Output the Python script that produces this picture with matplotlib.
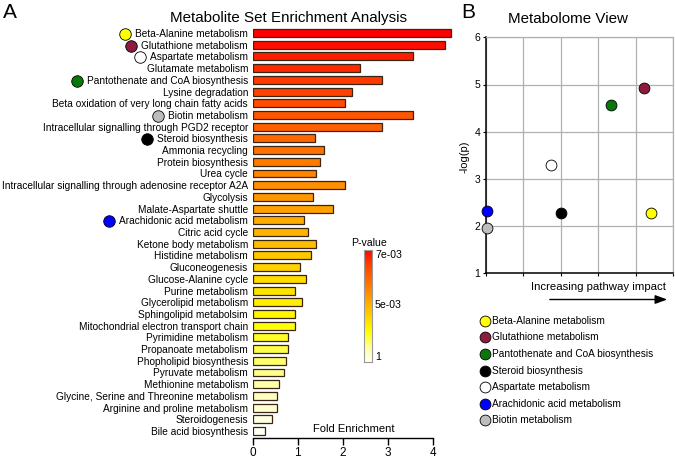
import matplotlib
matplotlib.use("Agg")
import matplotlib.pyplot as plt
from matplotlib.colors import LinearSegmentedColormap
from matplotlib.lines import Line2D
import numpy as np

plt.rcParams['font.family'] = ['Liberation Sans', 'DejaVu Sans']

# ---------------- data ----------------
pathways = [
    "Beta-Alanine metabolism", "Glutathione metabolism", "Aspartate metabolism",
    "Glutamate metabolism", "Pantothenate and CoA biosynthesis", "Lysine degradation",
    "Beta oxidation of very long chain fatty acids", "Biotin metabolism",
    "Intracellular signalling through PGD2 receptor", "Steroid biosynthesis",
    "Ammonia recycling", "Protein biosynthesis", "Urea cycle",
    "Intracellular signalling through adenosine receptor A2A", "Glycolysis",
    "Malate-Aspartate shuttle", "Arachidonic acid metabolism", "Citric acid cycle",
    "Ketone body metabolism", "Histidine metabolism", "Gluconeogenesis",
    "Glucose-Alanine cycle", "Purine metabolism", "Glycerolipid metabolism",
    "Sphingolipid metabolsim", "Mitochondrial electron transport chain",
    "Pyrimidine metabolism", "Propanoate metabolism", "Phopholipid biosynthesis",
    "Pyruvate metabolism", "Methionine metabolism",
    "Glycine, Serine and Threonine metabolism", "Arginine and proline metabolism",
    "Steroidogenesis", "Bile acid biosynthesis",
]
fold_enrichment = [
    4.40, 4.28, 3.56, 2.38, 2.87, 2.20, 2.04, 3.56, 2.87, 1.38,
    1.58, 1.50, 1.41, 2.04, 1.35, 1.79, 1.15, 1.23, 1.41, 1.29,
    1.04, 1.19, 0.94, 1.09, 0.94, 0.94, 0.78, 0.78, 0.74, 0.70,
    0.59, 0.53, 0.53, 0.43, 0.28,
]
xticks_a = [0, 1, 2, 3, 4]
cbar_labels = ["7e-03", "5e-03", "1"]

marked_names = ["Beta-Alanine metabolism", "Glutathione metabolism",
                "Pantothenate and CoA biosynthesis", "Steroid biosynthesis",
                "Aspartate metabolism", "Arachidonic acid metabolism",
                "Biotin metabolism"]
marked_colors = ["#FFFF00", "#8C1C3C", "#087808", "#000000",
                 "#FFFFFF", "#0000FF", "#BDBDBD"]
impact = [4.40, 4.23, 3.35, 2.00, 1.73, 0.03, 0.03]
neglogp = [2.28, 4.93, 4.56, 2.27, 3.30, 2.33, 1.95]
yticks_b = [1, 2, 3, 4, 5, 6]

# ---------------- figure ----------------
W, H = 675, 458
fig = plt.figure(figsize=(W / 100, H / 100), dpi=100)

def fx(px):
    return px / W

def fy(py):
    return 1 - py / H

cmap = LinearSegmentedColormap.from_list("pv", [
    (0.0, "#FFFFF4"), (0.12, "#FFFFA8"), (0.27, "#FFFF00"), (0.45, "#FFC400"),
    (0.6, "#FF9400"), (0.75, "#FF6400"), (0.88, "#FF3A00"), (1.0, "#FF0000")])

# ---------- panel A ----------
axA = fig.add_axes([fx(252.7), fy(437.7), fx(200.3), (437.7 - 26) / H])
n = len(pathways)
ypos = np.arange(n)
shade = 1 - ypos / (n - 1)
axA.barh(ypos, fold_enrichment, height=0.68, color=cmap(shade),
         edgecolor="#3a2412", linewidth=0.9)
axA.set_xlim(0, 4.45)
axA.set_ylim(34.57, -0.6)
axA.set_yticks(ypos)
axA.set_yticklabels(pathways, fontsize=7.3)
axA.tick_params(axis='y', length=0, pad=3.3)
axA.set_xticks(xticks_a)
axA.set_xticklabels([str(t) for t in xticks_a], fontsize=8.5)
axA.tick_params(axis='x', length=5, width=1, pad=1.5)
for s in ["top", "right", "left"]:
    axA.spines[s].set_visible(False)
axA.spines["bottom"].set_bounds(0, 4)
axA.spines["bottom"].set_linewidth(1)
axA.patch.set_alpha(0)

fig.text(fx(289), fy(18), "Metabolite Set Enrichment Analysis", fontsize=10.9,
         ha="center", va="center")
fig.text(fx(354), fy(429), "Fold Enrichment", fontsize=8, ha="center", va="center")
fig.text(fx(10), fy(12), "A", fontsize=15, ha="center", va="center")

# colorbar
axC = fig.add_axes([fx(363.5), fy(362), fx(8.5), 112 / H])
grad = np.linspace(0, 1, 256).reshape(-1, 1)
axC.imshow(grad, aspect="auto", cmap=cmap, origin="lower", extent=[0, 1, 0, 1])
axC.set_xticks([])
axC.set_yticks([])
for s in axC.spines.values():
    s.set_color("#999999")
    s.set_linewidth(0.8)
fig.text(fx(368.5), fy(242.5), "P-value", fontsize=7.6, ha="center", va="center")
for lab, py in zip(cbar_labels, [255, 305, 357]):
    fig.text(fx(375), fy(py), lab, fontsize=7.6, ha="left", va="center")

# ---------- panel B ----------
axB = fig.add_axes([fx(486), fy(273.3), fx(187.3), 236 / H])
for xi, yi, c in zip(impact, neglogp, marked_colors):
    axB.plot(xi, yi, "o", ms=7.8, mfc=c, mec="black", mew=0.6, clip_on=False, zorder=5)
axB.set_xlim(0, 5)
axB.set_ylim(1, 6)
axB.set_xticks(range(6))
axB.set_xticklabels([])
axB.set_yticks(yticks_b)
axB.set_yticklabels([str(t) for t in yticks_b], fontsize=7.5)
axB.tick_params(axis='both', length=2.5, width=0.8, pad=1.8)
axB.grid(True, color="#b0b0b0", linewidth=0.9)
axB.set_axisbelow(True)
for s in ["top", "right"]:
    axB.spines[s].set_color("#b0b0b0")
    axB.spines[s].set_linewidth(0.9)
for s in ["left", "bottom"]:
    axB.spines[s].set_linewidth(1.1)
fig.text(fx(464.5), fy(157), "-log(p)", fontsize=8, rotation=90, ha="center", va="center")
fig.text(fx(567.5), fy(19), "Metabolome View", fontsize=10.9, ha="center", va="center")
fig.text(fx(468), fy(12), "B", fontsize=15, ha="center", va="center")
fig.text(fx(598.5), fy(287), "Increasing pathway impact", fontsize=8.2,
         ha="center", va="center")
fig.add_artist(matplotlib.patches.FancyArrowPatch(
    (fx(547), fy(299.5)), (fx(670), fy(299.5)), transform=fig.transFigure,
    arrowstyle="-|>,head_length=0.6,head_width=0.22", mutation_scale=12,
    color="black", linewidth=1))

# legend
for k, (name, c) in enumerate(zip(marked_names, marked_colors)):
    py = 320.7 + k * 16.6
    fig.add_artist(Line2D([fx(485)], [fy(py)], marker="o", ms=7.8, mfc=c,
                          mec="black", mew=0.6, transform=fig.transFigure))
    fig.text(fx(492.5), fy(py), name, fontsize=7.3, ha="left", va="center")

# circles next to category labels in panel A
fig.canvas.draw()
renderer = fig.canvas.get_renderer()
color_of = dict(zip(marked_names, marked_colors))
for lbl in axA.get_yticklabels():
    name = lbl.get_text()
    if name in color_of:
        bb = lbl.get_window_extent(renderer)
        cx = bb.x0 - 10
        cy = (bb.y0 + bb.y1) / 2
        fig.add_artist(Line2D([cx / W], [cy / H], marker="o", ms=8.3,
                              mfc=color_of[name], mec="black", mew=0.6,
                              transform=fig.transFigure))

fig.savefig("out.png", dpi=100)
